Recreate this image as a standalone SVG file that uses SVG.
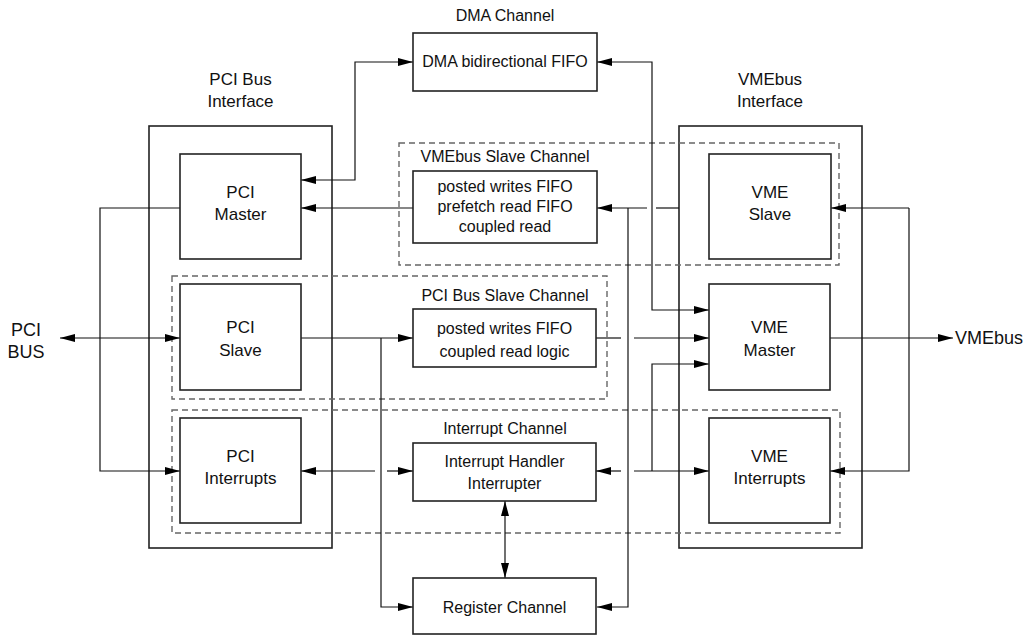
<svg xmlns="http://www.w3.org/2000/svg" width="1031" height="636" viewBox="0 0 1031 636">
<style>
.bg{fill:#fff}
.box{fill:#fff;stroke:#222;stroke-width:1.6}
.outer{fill:none;stroke:#222;stroke-width:1.6}
.dash{fill:none;stroke:#666;stroke-width:1.4;stroke-dasharray:6 4}
.t{font-family:"Liberation Sans",Arial,sans-serif;font-size:17px;fill:#111;text-anchor:middle}
.s{font-family:"Liberation Sans",Arial,sans-serif;font-size:16px;fill:#111;text-anchor:middle}
.b{font-family:"Liberation Sans",Arial,sans-serif;font-size:18px;fill:#111}
.c{fill:none;stroke:#111;stroke-width:1.2}
</style>
<defs>
<marker id="ah" markerUnits="userSpaceOnUse" markerWidth="15" markerHeight="8" refX="15" refY="4" orient="auto-start-reverse" viewBox="0 0 15 8">
<path d="M0,0 L15,4 L0,8 z" fill="#000"/>
</marker>
</defs>
<rect class="bg" x="0" y="0" width="1031" height="636"/>

<g id="pci-bus-interface">
<rect class="outer" x="149" y="126" width="183" height="422"/>
<text class="t" x="240.5" y="85">PCI Bus</text>
<text class="t" x="240.5" y="107">Interface</text>
</g>
<g id="vmebus-interface">
<rect class="outer" x="679" y="126" width="183" height="422"/>
<text class="t" x="770" y="85">VMEbus</text>
<text class="t" x="770" y="107">Interface</text>
</g>

<g id="vmebus-slave-channel">
<rect class="dash" x="399" y="143" width="440" height="122"/>
<text class="s" x="505" y="162">VMEbus Slave Channel</text>
</g>
<g id="pci-bus-slave-channel">
<rect class="dash" x="172" y="276" width="435" height="123"/>
<text class="s" x="505" y="301">PCI Bus Slave Channel</text>
</g>
<g id="interrupt-channel">
<rect class="dash" x="172" y="410" width="668" height="123"/>
<text class="s" x="505" y="434">Interrupt Channel</text>
</g>

<g id="connectors">
<path class="c" d="M301,180 H355 V62 H413" marker-start="url(#ah)" marker-end="url(#ah)"/>
<path class="c" d="M597,62 H652 V310 H709" marker-start="url(#ah)" marker-end="url(#ah)"/>
<path class="c" d="M679,208 H656"/>
<path class="c" d="M647,208 H597" marker-end="url(#ah)"/>
<path class="c" d="M413,208 H301" marker-end="url(#ah)"/>
<path class="c" d="M628,208 V607 H597" marker-end="url(#ah)"/>
<path class="c" d="M60,338 H180" marker-start="url(#ah)" marker-end="url(#ah)"/>
<path class="c" d="M180,208 H100 V471 H180" marker-end="url(#ah)"/>
<path class="c" d="M301,338 H413" marker-end="url(#ah)"/>
<path class="c" d="M381,338 V607 H413" marker-end="url(#ah)"/>
<path class="c" d="M596,338 H621"/>
<path class="c" d="M634,338 H709" marker-end="url(#ah)"/>
<path class="c" d="M375,471 H301" marker-end="url(#ah)"/>
<path class="c" d="M387,471 H413" marker-end="url(#ah)"/>
<path class="c" d="M621,471 H596" marker-end="url(#ah)"/>
<path class="c" d="M634,471 H709" marker-end="url(#ah)"/>
<path class="c" d="M652,471 V364 H709" marker-end="url(#ah)"/>
<path class="c" d="M909,208 H831" marker-end="url(#ah)"/>
<path class="c" d="M909,208 V471 H830" marker-end="url(#ah)"/>
<path class="c" d="M830,338 H953" marker-end="url(#ah)"/>
<path class="c" d="M505,501 V578" marker-start="url(#ah)" marker-end="url(#ah)"/>
</g>

<g id="dma-channel">
<text class="s" x="505" y="21">DMA Channel</text>
<rect class="box" x="413" y="33" width="184" height="58"/>
<text class="s" x="505" y="67">DMA bidirectional FIFO</text>
</g>
<g id="vmebus-slave-fifo">
<rect class="box" x="413" y="171" width="184" height="72"/>
<text class="s" x="505" y="192">posted writes FIFO</text>
<text class="s" x="505" y="212">prefetch read FIFO</text>
<text class="s" x="505" y="232">coupled read</text>
</g>
<g id="pci-slave-fifo">
<rect class="box" x="413" y="309" width="183" height="58"/>
<text class="s" x="504.5" y="334">posted writes FIFO</text>
<text class="s" x="504.5" y="357">coupled read logic</text>
</g>
<g id="interrupt-handler">
<rect class="box" x="413" y="443" width="183" height="58"/>
<text class="s" x="504.5" y="467">Interrupt Handler</text>
<text class="s" x="504.5" y="489">Interrupter</text>
</g>
<g id="register-channel">
<rect class="box" x="413" y="578" width="183" height="56"/>
<text class="s" x="504.5" y="613">Register Channel</text>
</g>

<g id="pci-master">
<rect class="box" x="180" y="154" width="121" height="105"/>
<text class="t" x="240.5" y="198">PCI</text>
<text class="t" x="240.5" y="220">Master</text>
</g>
<g id="pci-slave">
<rect class="box" x="180" y="284" width="121" height="106"/>
<text class="t" x="240.5" y="333">PCI</text>
<text class="t" x="240.5" y="356">Slave</text>
</g>
<g id="pci-interrupts">
<rect class="box" x="180" y="418" width="121" height="105"/>
<text class="t" x="240.5" y="462">PCI</text>
<text class="t" x="240.5" y="484">Interrupts</text>
</g>
<g id="vme-slave">
<rect class="box" x="709" y="154" width="122" height="105"/>
<text class="t" x="770" y="198">VME</text>
<text class="t" x="770" y="220">Slave</text>
</g>
<g id="vme-master">
<rect class="box" x="709" y="284" width="121" height="106"/>
<text class="t" x="769.5" y="333">VME</text>
<text class="t" x="769.5" y="356">Master</text>
</g>
<g id="vme-interrupts">
<rect class="box" x="709" y="418" width="121" height="105"/>
<text class="t" x="769.5" y="462">VME</text>
<text class="t" x="769.5" y="484">Interrupts</text>
</g>

<g id="pci-bus">
<text class="b" x="26" y="336" text-anchor="middle">PCI</text>
<text class="b" x="26" y="358" text-anchor="middle">BUS</text>
</g>
<g id="vmebus">
<text class="b" x="955" y="344">VMEbus</text>
</g>
</svg>
